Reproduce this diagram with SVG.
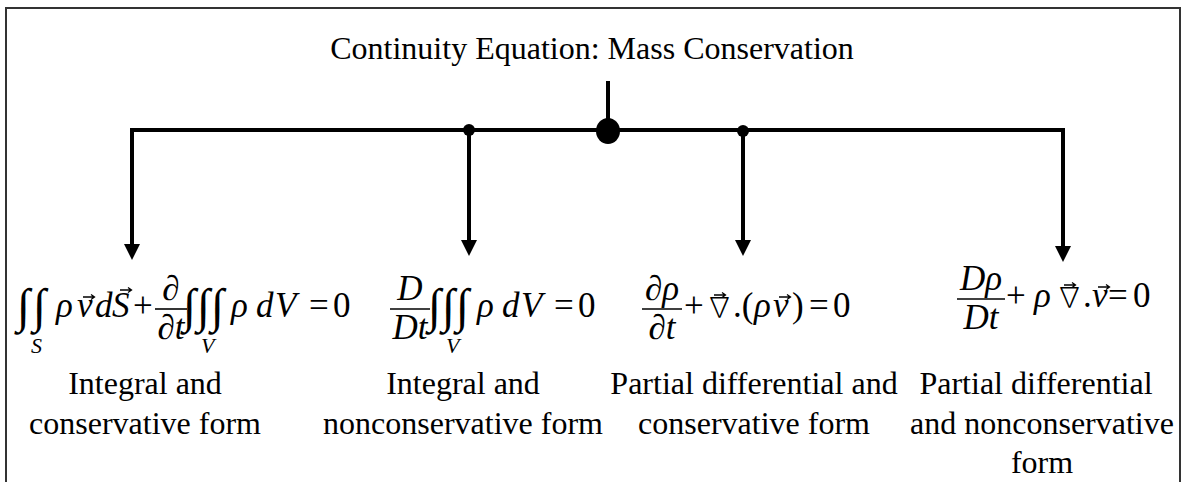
<svg xmlns="http://www.w3.org/2000/svg" width="1186" height="482" viewBox="0 0 1186 482">
<defs>
<style>
.t{font-family:"Liberation Serif","Times New Roman",serif;font-size:32px;fill:#000}
.lbl{text-anchor:middle}
.m{font-family:"Liberation Serif","Times New Roman",serif;font-size:35px;fill:#000}
.i{font-style:italic}
.nab{font-family:"Noto Sans CJK JP","Noto Sans CJK SC",sans-serif;font-size:27px;font-weight:300}
.int{font-family:"Liberation Serif","DejaVu Serif",serif;font-size:48px;font-style:italic}
.sub{font-family:"Liberation Serif",serif;font-size:22px;font-style:italic}
.c{text-anchor:middle}
.bar{stroke:#000;stroke-width:1.6}
.vec{stroke:#000;stroke-width:1.3;fill:none}
.ln{stroke:#000;stroke-width:4;fill:none}
</style>
<path id="va" d="M0,0 H11 M8,-2.5 L11.5,0 L8,2.5" />
</defs>
<rect x="0" y="0" width="1186" height="482" fill="#fff"/>
<rect x="6" y="8" width="1174" height="490" fill="none" stroke="#333" stroke-width="2"/>

<g id="title">
<text class="t" x="592" y="59" text-anchor="middle">Continuity Equation: Mass Conservation</text>
</g>

<g id="connectors">
<line class="ln" x1="608" y1="81" x2="608" y2="130"/>
<line class="ln" x1="132" y1="130" x2="1063" y2="130"/>
<line class="ln" x1="132" y1="128" x2="132" y2="246"/>
<path d="M124,244 L140,244 L132,260 Z"/>
<line class="ln" x1="469" y1="130" x2="469" y2="242"/>
<path d="M461,240 L477,240 L469,256 Z"/>
<line class="ln" x1="743" y1="130" x2="743" y2="242"/>
<path d="M735,240 L751,240 L743,256 Z"/>
<line class="ln" x1="1063" y1="128" x2="1063" y2="248"/>
<path d="M1055,246 L1071,246 L1063,262 Z"/>
<ellipse cx="608" cy="131" rx="12" ry="13"/>
<circle cx="469" cy="130" r="6"/>
<circle cx="743" cy="131" r="6"/>
</g>

<g id="eq1">
<text class="int" x="17" y="322">∫</text>
<text class="int" x="33" y="322">∫</text>
<text class="sub" x="31" y="353">S</text>
<text class="m i" x="56" y="317">ρ</text>
<text class="m i" x="77" y="317">v</text>
<use href="#va" class="vec" x="83" y="297"/>
<text class="m i" x="95" y="317">d</text>
<text class="m i" x="112" y="317">S</text>
<use href="#va" class="vec" x="120" y="290"/>
<text class="m" x="133" y="317">+</text>
<text class="m c" x="171" y="300">∂</text>
<line class="bar" x1="155" y1="309" x2="187" y2="309"/>
<text class="m c i" x="171" y="339">∂t</text>
<text class="int" x="183" y="322">∫</text>
<text class="int" x="197" y="322">∫</text>
<text class="int" x="211" y="322">∫</text>
<text class="sub" x="201" y="353">V</text>
<text class="m i" x="231" y="317">ρ</text>
<text class="m i" x="256" y="317">d</text>
<text class="m i" x="275" y="317">V</text>
<text class="m" x="309" y="317">=</text>
<text class="m" x="333" y="317">0</text>
</g>

<g id="eq2">
<text class="m c i" x="410" y="300">D</text>
<line class="bar" x1="390" y1="309" x2="430" y2="309"/>
<text class="m c i" x="410" y="339">Dt</text>
<text class="int" x="428" y="322">∫</text>
<text class="int" x="442" y="322">∫</text>
<text class="int" x="456" y="322">∫</text>
<text class="sub" x="446" y="353">V</text>
<text class="m i" x="477" y="317">ρ</text>
<text class="m i" x="502" y="317">d</text>
<text class="m i" x="521" y="317">V</text>
<text class="m" x="554" y="317">=</text>
<text class="m" x="578" y="317">0</text>
</g>

<g id="eq3">
<text class="m c i" x="662" y="300">∂ρ</text>
<line class="bar" x1="642" y1="309" x2="682" y2="309"/>
<text class="m c i" x="662" y="339">∂t</text>
<text class="m" x="684" y="317">+</text>
<text class="nab" x="706" y="317">∇</text>
<use href="#va" class="vec" x="714" y="295"/>
<text class="m" x="733" y="317">.(</text>
<text class="m i" x="754" y="317">ρ</text>
<text class="m i" x="773" y="317">v</text>
<use href="#va" class="vec" x="779" y="297"/>
<text class="m" x="792" y="317">)</text>
<text class="m" x="809" y="317">=</text>
<text class="m" x="833" y="317">0</text>
</g>

<g id="eq4">
<text class="m c i" x="981" y="290">Dρ</text>
<line class="bar" x1="957" y1="299" x2="1005" y2="299"/>
<text class="m c i" x="981" y="329">Dt</text>
<text class="m" x="1006" y="307">+</text>
<text class="m i" x="1034" y="307">ρ</text>
<text class="nab" x="1056" y="307">∇</text>
<use href="#va" class="vec" x="1064" y="285"/>
<text class="m" x="1083" y="307">.</text>
<text class="m i" x="1092" y="307">v</text>
<use href="#va" class="vec" x="1098" y="287"/>
<text class="m" x="1108" y="307">=</text>
<text class="m" x="1133" y="307">0</text>
</g>

<g id="label1">
<text class="t lbl" x="145" y="394">Integral and</text>
<text class="t lbl" x="145" y="434">conservative form</text>
</g>
<g id="label2">
<text class="t lbl" x="463" y="394">Integral and</text>
<text class="t lbl" x="463" y="434">nonconservative form</text>
</g>
<g id="label3">
<text class="t lbl" x="754" y="394">Partial differential and</text>
<text class="t lbl" x="754" y="434">conservative form</text>
</g>
<g id="label4">
<text class="t lbl" x="1036" y="394">Partial differential</text>
<text class="t lbl" x="1042" y="434">and nonconservative</text>
<text class="t lbl" x="1042" y="473">form</text>
</g>
</svg>
